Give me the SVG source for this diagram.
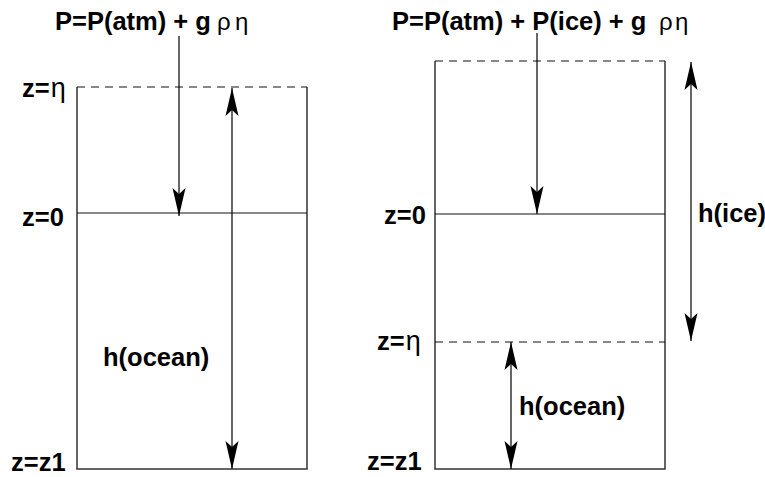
<svg xmlns="http://www.w3.org/2000/svg" width="765" height="477" viewBox="0 0 765 477">
<style>
.b{font-family:"Liberation Sans",Arial,sans-serif;font-weight:bold;font-size:25.5px;fill:#000}
.g{font-family:"Liberation Sans",Arial,sans-serif;font-weight:normal;font-size:24px;fill:#000}
.gl{font-family:"Liberation Sans",Arial,sans-serif;font-weight:normal;font-size:27px;fill:#000}
.box{fill:none;stroke:#333;stroke-width:1.5}
.ln{stroke:#111;stroke-width:1;fill:none}
.dash{stroke:#111;stroke-width:1.1;stroke-dasharray:8,6;fill:none}
.arr{stroke:#000;stroke-width:1.2;fill:none}
</style>
<defs>
<marker id="ah" markerUnits="userSpaceOnUse" markerWidth="30" markerHeight="16" viewBox="-29 -8 30 16" refX="0" refY="0" orient="auto-start-reverse">
<path d="M0,0 L-28,-6.5 L-22,0 L-28,6.5 Z" fill="#000"/>
</marker>
</defs>
<g id="left-column">
<g id="left-box">
<path class="box" d="M77,87 V469 H307 V87"/>
<line class="dash" x1="77" y1="87" x2="307" y2="87"/>
<line class="ln" x1="77" y1="213" x2="307" y2="213"/>
</g>
<g id="left-title"><text class="b" x="55" y="30">P=P(atm) + g</text><text class="g" x="217" y="30">ρ</text><text class="g" x="235" y="30">η</text></g>
<g id="left-zeta"><text class="b" x="22" y="97">z=<tspan class="gl" dx="1">η</tspan></text></g>
<g id="left-z0"><text class="b" x="22" y="226">z=0</text></g>
<g id="left-zz1"><text class="b" x="11" y="471">z=z1</text></g>
<g id="left-hocean"><text class="b" x="103" y="366">h(ocean)</text></g>
</g>
<g id="right-column">
<g id="right-box">
<path class="box" d="M435,61 V469 H665 V61"/>
<line class="dash" x1="435" y1="61" x2="665" y2="61"/>
<line class="ln" x1="435" y1="214" x2="665" y2="214"/>
<line class="dash" x1="435" y1="342" x2="665" y2="342"/>
</g>
<g id="right-title"><text class="b" x="392" y="30">P=P(atm) + P(ice) + g</text><text class="g" x="659" y="30">ρ</text><text class="g" x="675" y="30">η</text></g>
<g id="right-z0"><text class="b" x="384" y="224">z=0</text></g>
<g id="right-zeta"><text class="b" x="377" y="350">z=<tspan class="gl" dx="1">η</tspan></text></g>
<g id="right-zz1"><text class="b" x="367" y="470">z=z1</text></g>
<g id="right-hice"><text class="b" x="698" y="222">h(ice)</text></g>
<g id="right-hocean"><text class="b" x="519" y="415">h(ocean)</text></g>
</g>
<g id="connectors">
<line class="arr" x1="179" y1="36" x2="179" y2="216" marker-end="url(#ah)"/>
<line class="arr" x1="232" y1="88" x2="232" y2="469" marker-start="url(#ah)" marker-end="url(#ah)"/>
<line class="arr" x1="537" y1="33" x2="537" y2="214" marker-end="url(#ah)"/>
<line class="arr" x1="691" y1="62" x2="691" y2="341" marker-start="url(#ah)" marker-end="url(#ah)"/>
<line class="arr" x1="511" y1="342" x2="511" y2="469" marker-start="url(#ah)" marker-end="url(#ah)"/>
</g>
</svg>
